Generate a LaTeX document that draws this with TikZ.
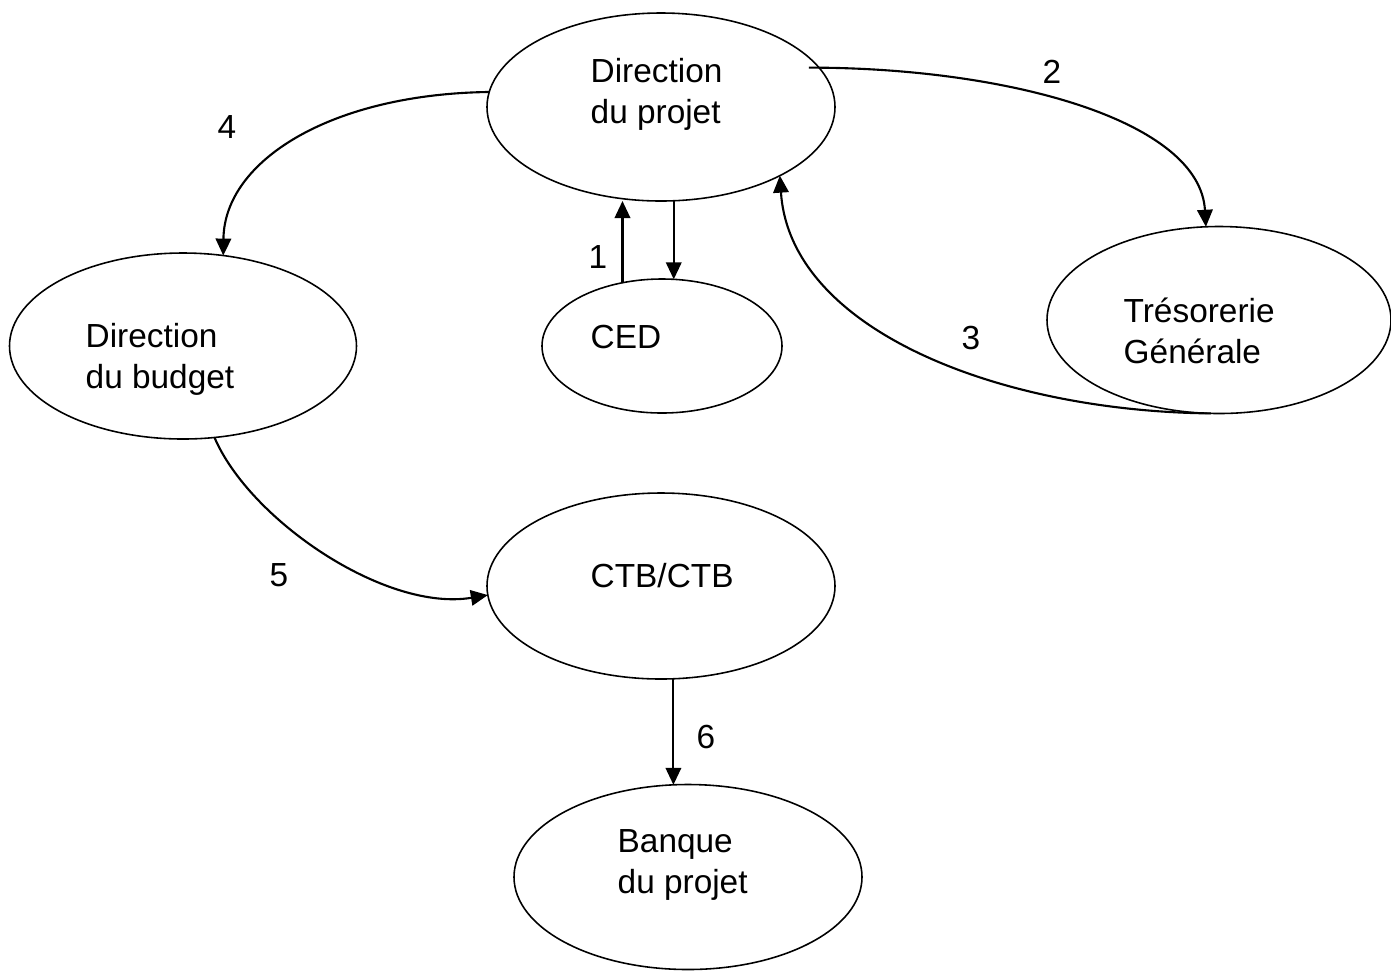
\documentclass[tikz,border=0pt]{standalone}
\usepackage{fontspec}
\setmainfont{Liberation Sans}
\usepackage{tikz}
\usetikzlibrary{arrows.meta,shapes.geometric}

\begin{document}
\begin{tikzpicture}[
      x=1cm, y=1cm,
      ell/.style = {ellipse, draw, line width=0.45pt, inner sep=0pt, outer sep=0pt},
      txt/.style = {anchor=base west, align=left, inner sep=0pt, font=\fontsize{9.5pt}{11.4pt}\selectfont},
      lab/.style = {font=\fontsize{9.5pt}{11.4pt}\selectfont, inner sep=1pt},
      arr/.style = {line width=0.6pt, -{Triangle[length=1.7mm, width=1.55mm]}},
    ]
    \useasboundingbox (0,0) rectangle (13.91,-9.72);

    % ellipses
    \node[ell, minimum width=3.48cm, minimum height=1.88cm] (proj) at (6.61, -1.07) {};
    \node[ell, minimum width=2.40cm, minimum height=1.34cm] (ced)  at (6.62, -3.46) {};
    \node[ell, minimum width=3.47cm, minimum height=1.86cm] (budg) at (1.83, -3.46) {};
    \node[ell, minimum width=3.44cm, minimum height=1.87cm] (tres) at (12.19, -3.20) {};
    \node[ell, minimum width=3.48cm, minimum height=1.86cm] (ctb)  at (6.61, -5.86) {};
    \node[ell, minimum width=3.48cm, minimum height=1.85cm] (banq) at (6.88, -8.77) {};

    % texts (anchored on the last line)
    \node[txt] (projt)  at (5.90, -1.23)  {Direction\\du projet};
    \node[txt] (cedt)   at (5.90, -3.48)  {CED};
    \node[txt] (budgt)  at (0.85, -3.88)  {Direction\\du budget};
    \node[txt] (trest)  at (11.23, -3.63) {Trésorerie\\Générale};
    \node[txt] (ctbt)   at (5.90, -5.87)  {CTB/CTB};
    \node[txt] (banqt)  at (6.17, -8.93)  {Banque\\du projet};

    % flows
    \draw[arr] (ced.122) -- (ced.122 |- proj.south);
    \draw[arr] (proj.south -| ced.80) -- (ced.80);
    \draw[arr] ([xshift=-1mm]proj.14) .. controls +(2.0,0) and +(-0.06,1.06) .. (tres.98);
    \draw[arr] (tres.265) .. controls +(-2.1,0.02) and +(0.10,-1.55) .. (proj.330);
    \draw[arr] (proj.175) .. controls +(-1.58,-0.02) and +(0.01,0.95) .. (budg.66);
    \draw[arr] (budg.289) .. controls +(0.35,-0.82) and +(-1.03,-0.17) .. (ctb.183);
    \draw[arr] (ctb.south -| banq.99) -- (banq.99);

    % numbers
    \node[lab] (n1) at (5.98, -2.57)  {1};
    \node[lab] (n2) at (10.52, -0.72) {2};
    \node[lab] (n3) at (9.71, -3.38)  {3};
    \node[lab] (n4) at (2.27, -1.27)  {4};
    \node[lab] (n5) at (2.79, -5.75)  {5};
    \node[lab] (n6) at (7.06, -7.37)  {6};
  \end{tikzpicture}
\end{document}
